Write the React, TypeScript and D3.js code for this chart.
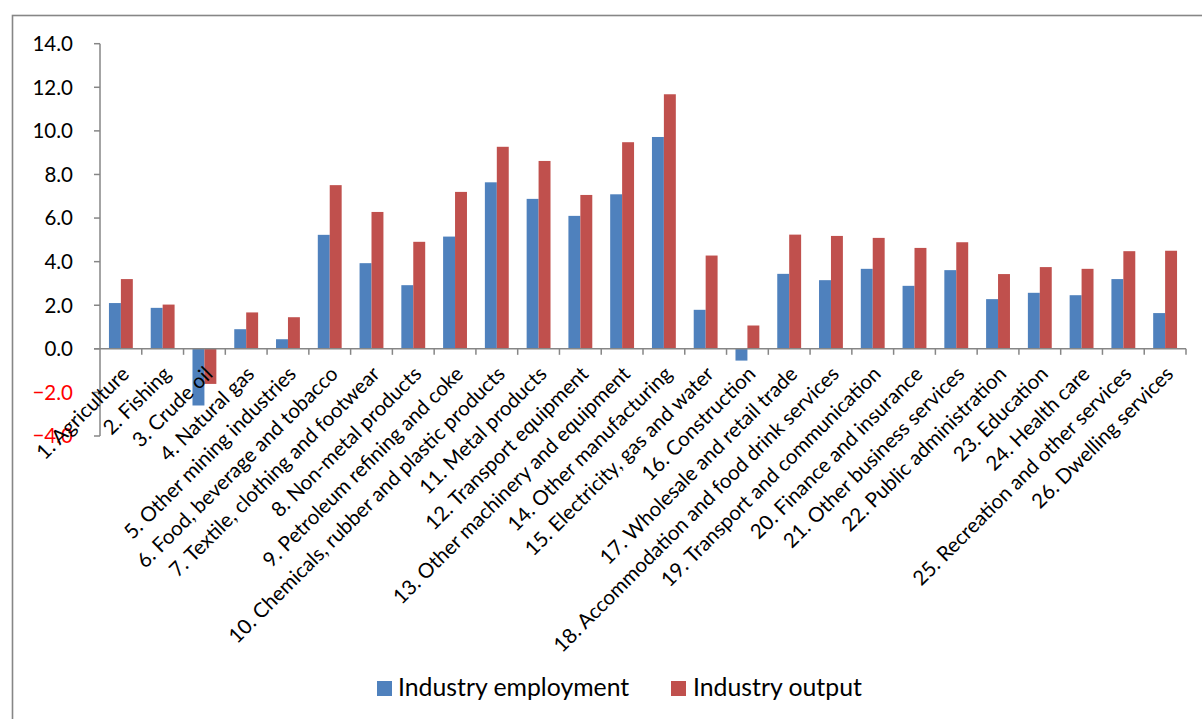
import React from "react";
import * as d3 from "d3";

const categories: string[] = [
  "1. Agriculture",
  "2. Fishing",
  "3. Crude oil",
  "4. Natural gas",
  "5. Other mining industries",
  "6. Food, beverage and tobacco",
  "7. Textile, clothing and footwear",
  "8. Non-metal products",
  "9. Petroleum refining and coke",
  "10. Chemicals, rubber and plastic products",
  "11. Metal products",
  "12. Transport equipment",
  "13. Other machinery and equipment",
  "14. Other manufacturing",
  "15. Electricity, gas and water",
  "16. Construction",
  "17. Wholesale and retail trade",
  "18. Accommodation and food drink services",
  "19. Transport and communication",
  "20. Finance and insurance",
  "21. Other business services",
  "22. Public administration",
  "23. Education",
  "24. Health care",
  "25. Recreation and other services",
  "26. Dwelling services",
];

const employment: number[] = [
  2.1, 1.88, -2.6, 0.9, 0.44, 5.23, 3.93, 2.92, 5.15, 7.64, 6.88, 6.1, 7.09,
  9.72, 1.79, -0.54, 3.44, 3.15, 3.67, 2.89, 3.61, 2.28, 2.57, 2.46, 3.2, 1.64,
];

const output: number[] = [
  3.2, 2.03, -1.61, 1.67, 1.45, 7.51, 6.28, 4.91, 7.2, 9.27, 8.62, 7.06, 9.48,
  11.68, 4.28, 1.07, 5.24, 5.18, 5.09, 4.63, 4.89, 3.43, 3.75, 3.67, 4.48, 4.5,
];

const yTicks: number[] = [14, 12, 10, 8, 6, 4, 2, 0, -2, -4];

const seriesNames: string[] = ["Industry employment", "Industry output"];
const seriesColors: string[] = ["#4F81BD", "#C0504D"];

const W = 1202;
const H = 719;
const FONT = "Lato, 'Open Sans', sans-serif";

export default function App() {
  const x0 = d3.scaleBand<string>().domain(categories).range([100, 1186]).padding(0);
  const x1 = d3
    .scaleBand<string>()
    .domain(seriesNames)
    .range([0, x0.bandwidth()])
    .paddingInner(0)
    .paddingOuter(0.75);
  const y = d3.scaleLinear().domain([-4, 14]).range([436, 43.7]);
  const axisColor = "#868686";
  const seriesData = [employment, output];

  return (
    <div style={{ position: "absolute", left: 0, top: 0, width: W, height: H }}>
      <svg width={W} height={H} style={{ display: "block", fontFamily: FONT }}>
        <rect x={0} y={0} width={W} height={H} fill="#fff" />
        <rect
          x={12.5}
          y={15.5}
          width={W + 20}
          height={H + 20}
          fill="none"
          stroke={axisColor}
          strokeWidth={1.6}
        />
        {/* bars */}
        {seriesData.map((vals, si) =>
          vals.map((v, i) => {
            const xx = (x0(categories[i]) ?? 0) + (x1(seriesNames[si]) ?? 0);
            const y0 = y(0);
            const yv = y(v);
            return (
              <rect
                key={`${si}-${i}`}
                x={xx}
                y={Math.min(y0, yv)}
                width={x1.bandwidth()}
                height={Math.abs(yv - y0)}
                fill={seriesColors[si]}
              />
            );
          })
        )}
        {/* y axis */}
        <line x1={100} x2={100} y1={y(14)} y2={y(-4)} stroke={axisColor} strokeWidth={1.5} />
        {yTicks.map((t) => (
          <g key={t}>
            <line x1={94} x2={100} y1={y(t)} y2={y(t)} stroke={axisColor} strokeWidth={1.5} />
            <text
              x={73}
              y={y(t)}
              dy="0.36em"
              textAnchor="end"
              fontSize={20.5}
              fill={t < 0 ? "#FF0000" : "#000"}
            >
              {d3.format(".1f")(t)}
            </text>
          </g>
        ))}
        {/* x axis */}
        <line x1={94} x2={1186} y1={y(0)} y2={y(0)} stroke={axisColor} strokeWidth={1.5} />
        {categories.map((c, i) => (
          <line
            key={`tk${i}`}
            x1={(x0(c) ?? 0) + x0.bandwidth()}
            x2={(x0(c) ?? 0) + x0.bandwidth()}
            y1={y(0)}
            y2={y(0) + 6}
            stroke={axisColor}
            strokeWidth={1.5}
          />
        ))}
        {categories.map((c, i) => {
          const cx = (x0(c) ?? 0) + x0.bandwidth() / 2;
          return (
            <text
              key={`lb${i}`}
              transform={`translate(${cx - 1},${y(0) + 16}) rotate(-45)`}
              textAnchor="end"
              dy="0.72em"
              fontSize={20.5}
              fill="#000"
            >
              {c}
            </text>
          );
        })}
        {/* legend */}
        <rect x={377} y={681} width={15} height={15} fill={seriesColors[0]} />
        <text x={398} y={696} fontSize={24.8} fill="#000">
          {seriesNames[0]}
        </text>
        <rect x={671} y={681} width={15} height={15} fill={seriesColors[1]} />
        <text x={693} y={696} fontSize={24.8} fill="#000">
          {seriesNames[1]}
        </text>
      </svg>
    </div>
  );
}
